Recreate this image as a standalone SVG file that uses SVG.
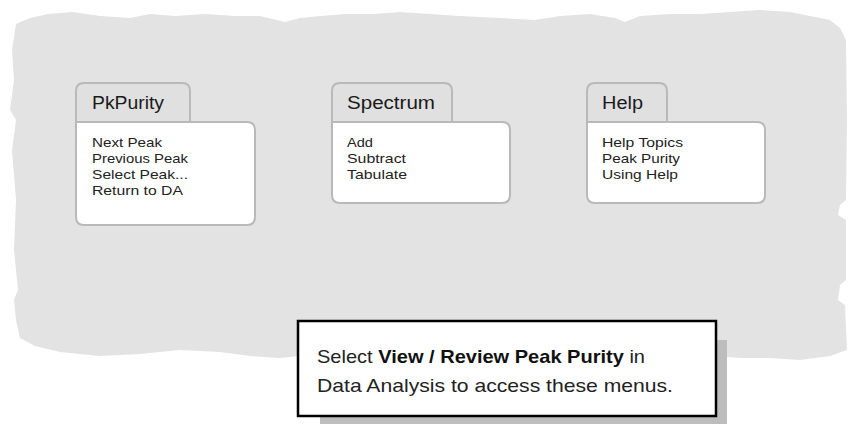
<svg xmlns="http://www.w3.org/2000/svg" width="849" height="424" viewBox="0 0 849 424">
<style>
.tab{fill:#e0e0e0;stroke:#b9b9b9;stroke-width:2}
.panel{fill:#ffffff;stroke:#b9b9b9;stroke-width:2}
.title{font-family:"Liberation Sans",Arial,sans-serif;font-size:18px;fill:#1a1a1a}
.item{font-family:"Liberation Sans",Arial,sans-serif;font-size:13.5px;fill:#222}
.note{font-family:"Liberation Sans",Arial,sans-serif;font-size:19px;fill:#222}
.b{font-weight:bold;fill:#111}
</style>
<rect width="849" height="424" fill="#ffffff"/>
<path id="backdrop" fill="#e3e3e3" d="M16,24 L30,18 L48,14 L72,12 L100,16 L130,18 L150,14 L175,16 L205,14 L235,16 L260,16 L285,22 L300,18 L320,16 L345,14 L375,14 L400,12 L430,14 L460,16 L500,18 L535,20 L560,16 L590,14 L615,18 L625,22 L640,16 L670,14 L700,14 L730,12 L760,10 L790,12 L810,16 L830,20 L840,28 L846,40 L847,120 L846,200 L840,205 L838,215 L846,220 L846,280 L840,285 L838,300 L845,305 L847,350 L830,356 L800,360 L770,358 L740,358 L716,356 L600,356 L400,356 L300,356 L280,358 L250,356 L220,352 L180,350 L140,354 L100,356 L60,352 L35,346 L20,338 L16,320 L14,300 L18,290 L14,250 L16,200 L12,150 L16,120 L10,110 L14,80 L12,50 Z"/>
<g id="menu-pkpurity">
<path class="tab" d="M76,122 V91 Q76,83 84,83 H182 Q190,83 190,91 V122"/>
<path class="panel" d="M76,122 H247 Q255,122 255,130 V217 Q255,225 247,225 H84 Q76,225 76,217 Z"/>
<text class="title" x="92" y="109" textLength="72" lengthAdjust="spacingAndGlyphs">PkPurity</text>
<text class="item" x="92" y="147" textLength="70" lengthAdjust="spacingAndGlyphs">Next Peak</text>
<text class="item" x="92" y="163" textLength="96" lengthAdjust="spacingAndGlyphs">Previous Peak</text>
<text class="item" x="92" y="179" textLength="96" lengthAdjust="spacingAndGlyphs">Select Peak...</text>
<text class="item" x="92" y="195" textLength="91" lengthAdjust="spacingAndGlyphs">Return to DA</text>
</g>
<g id="menu-spectrum">
<path class="tab" d="M332,122 V91 Q332,83 340,83 H444 Q452,83 452,91 V122"/>
<path class="panel" d="M332,122 H502 Q510,122 510,130 V195 Q510,203 502,203 H340 Q332,203 332,195 Z"/>
<text class="title" x="347" y="109" textLength="88" lengthAdjust="spacingAndGlyphs">Spectrum</text>
<text class="item" x="347" y="147" textLength="26" lengthAdjust="spacingAndGlyphs">Add</text>
<text class="item" x="347" y="163" textLength="59" lengthAdjust="spacingAndGlyphs">Subtract</text>
<text class="item" x="347" y="179" textLength="60" lengthAdjust="spacingAndGlyphs">Tabulate</text>
</g>
<g id="menu-help">
<path class="tab" d="M587,122 V91 Q587,83 595,83 H659 Q667,83 667,91 V122"/>
<path class="panel" d="M587,122 H757 Q765,122 765,130 V195 Q765,203 757,203 H595 Q587,203 587,195 Z"/>
<text class="title" x="602" y="109" textLength="41" lengthAdjust="spacingAndGlyphs">Help</text>
<text class="item" x="602" y="147" textLength="81" lengthAdjust="spacingAndGlyphs">Help Topics</text>
<text class="item" x="602" y="163" textLength="78" lengthAdjust="spacingAndGlyphs">Peak Purity</text>
<text class="item" x="602" y="179" textLength="76" lengthAdjust="spacingAndGlyphs">Using Help</text>
</g>
<g id="note">
<rect x="320" y="340" width="407" height="90" fill="#bdbdbd"/>
<rect x="298" y="321" width="418" height="95" fill="#ffffff" stroke="#000" stroke-width="2.5"/>
<text class="note" x="317" y="363" textLength="328" lengthAdjust="spacingAndGlyphs">Select <tspan class="b">View / Review Peak Purity</tspan> in</text>
<text class="note" x="317" y="392" textLength="356" lengthAdjust="spacingAndGlyphs">Data Analysis to access these menus.</text>
</g>
</svg>
